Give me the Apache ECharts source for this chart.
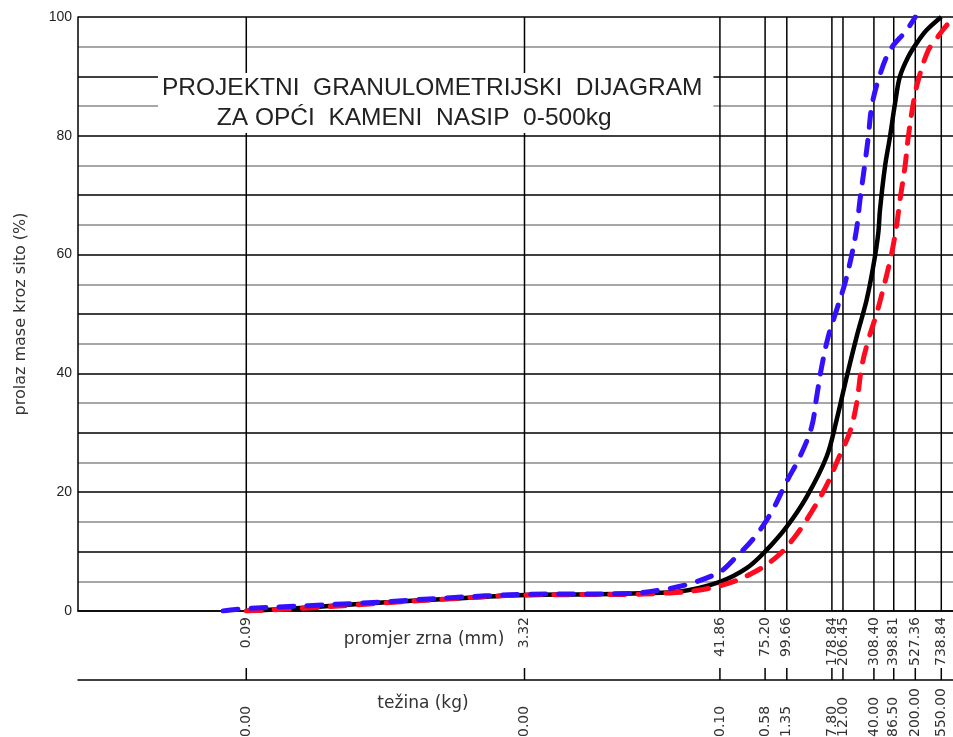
<!DOCTYPE html>
<html><head><meta charset="utf-8">
<script src="https://cdn.jsdelivr.net/npm/echarts@6/dist/echarts.min.js"></script>
<style>html,body{margin:0;padding:0;background:#fff}#c{width:953px;height:737px}</style>
</head><body><div id="c"></div>
<script>
// sieve sizes (mm) with vertical reference lines, and matching grain weights (kg)
const sieveMm = [0.09, 3.32, 41.86, 75.20, 99.66, 178.84, 206.45, 308.40, 398.81, 527.36, 738.84];
const sieveMmLabels = ['0.09','3.32','41.86','75.20','99.66','178.84','206.45','308.40','398.81','527.36','738.84'];
const weightKgLabels = ['0.00','0.00','0.10','0.58','1.35','7.80','12.00','40.00','86.50','200.00','550.00'];
const yTickLabels = [0, 20, 40, 60, 80, 100];
const xAxisMin = 0.01015;
const xAxisMax = 860;

// design grading curve (black) [mm, % passing]
const designCurve = [[0.09,0],[0.2,0.6],[0.5,1.4],[1.2,2.0],[3.32,2.7],[8,2.8],[15,3.0],[25,3.3],[41.86,4.9],[59.2,7.2],[75.2,10.0],[99.66,14.2],[128.9,19.2],[167.1,26],[190.2,32.2],[216.6,39.4],[246.6,46.2],[280.7,52.4],[305.8,58],[326.3,63.6],[333.6,67.5],[355.9,74.8],[379.7,79.8],[405.3,85.4],[432.4,90],[481.6,93.3],[537.1,95.6],[611.4,97.8],[738.84,100]];
// upper boundary (blue dashed)
const upperBound = [[0.0666,0],[0.09,0.4],[0.2,0.9],[0.508,1.5],[1.2,2.2],[3.32,2.8],[13,2.95],[20,3.6],[28.4,4.6],[41.86,6.6],[50.9,8.9],[65.9,12.5],[81.9,16.7],[99.5,21.8],[118.2,26],[137.5,31],[146.7,36],[156.6,41.1],[170.6,46.2],[190.2,50.7],[211.9,55.2],[231.1,59.9],[246.6,64.4],[257.4,69.2],[274.6,75.4],[286.7,79.8],[299.6,84.9],[326.4,89.4],[379.7,94.4],[471.7,97.8],[527.36,100]];
// lower boundary (red dashed)
const lowerBound = [[0.09,0],[0.2,0.5],[0.5,1.3],[1.2,2.0],[3.32,2.7],[13,2.8],[20,3.0],[28.4,3.3],[43.7,4.4],[63.1,6.3],[87.4,9.1],[110.7,12.5],[137.5,16.7],[167.1,21.2],[198.6,26.3],[226.1,30.2],[246.6,35],[263.1,41.1],[286.7,45.6],[319.6,50.1],[355.9,55.4],[388.2,60.2],[414.3,65],[432.4,69.2],[461.3,74.8],[481.6,79.8],[513.7,85.4],[548.3,89.4],[624.2,94.4],[696.2,96.4],[792.5,98.6],[860.3,99.4],[900,100]];

const chart = echarts.init(document.getElementById('c'), null, {renderer: 'canvas'});
const labelFont = '14px "DejaVu Sans"';

function renderSieve(params, api) {
  const i = params.dataIndex;
  const v = api.value(0);
  const p0 = api.coord([v, 0]);
  const p1 = api.coord([v, 100]);
  const x = p0[0], y0 = p0[1];
  return {
    type: 'group',
    children: [
      {type: 'line', shape: {x1: x, y1: y0, x2: x, y2: p1[1]}, style: {stroke: '#000', lineWidth: 1.5}},
      {type: 'line', shape: {x1: x, y1: y0 + 57, x2: x, y2: y0 + 69}, style: {stroke: '#000', lineWidth: 1.5}},
      {type: 'text', x: x, y: y0 + 6, rotation: Math.PI / 2,
        style: {text: sieveMmLabels[i], align: 'right', verticalAlign: 'middle', font: labelFont, fill: '#333'}},
      {type: 'text', x: x, y: y0 + 126, rotation: Math.PI / 2,
        style: {text: weightKgLabels[i], align: 'left', verticalAlign: 'middle', font: labelFont, fill: '#333'}}
    ]
  };
}

const titleTxt = {fontFamily: 'Liberation Sans', fontSize: 24.5, fontWeight: 'normal', lineHeight: 30, color: '#222'};

const option = {
  animation: false,
  backgroundColor: '#fff',
  title: {
    text: '{a|PROJEKTNI  GRANULOMETRIJSKI  DIJAGRAM}\n{b|ZA OPĆI  KAMENI  NASIP  0-500kg}',
    left: 158, top: 73,
    padding: [0, 11, 0, 4],
    backgroundColor: '#fff',
    textStyle: Object.assign({}, titleTxt, {
      rich: {
        a: Object.assign({align: 'center'}, titleTxt),
        b: Object.assign({align: 'center', padding: [0, 36, 0, 0]}, titleTxt)
      }
    })
  },
  grid: {left: 78, right: 0, top: 17, bottom: 126},
  xAxis: [
    {type: 'log', logBase: 10, min: xAxisMin, max: xAxisMax,
      axisLine: {show: true, onZero: false, lineStyle: {color: '#000', width: 1.5}},
      axisTick: {show: false}, axisLabel: {show: false}, splitLine: {show: false},
      name: 'promjer zrna (mm)', nameLocation: 'middle', nameGap: 20,
      nameTextStyle: {fontFamily: 'DejaVu Sans', fontSize: 17, color: '#333', padding: [0, 183, 0, 0]}},
    {type: 'log', logBase: 10, min: xAxisMin, max: xAxisMax, position: 'bottom', offset: 69,
      axisLine: {show: true, onZero: false, lineStyle: {color: '#000', width: 1.5}},
      axisTick: {show: false}, axisLabel: {show: false}, splitLine: {show: false},
      name: 'težina (kg)', nameLocation: 'middle', nameGap: 15,
      nameTextStyle: {fontFamily: 'DejaVu Sans', fontSize: 17, color: '#333', padding: [0, 185, 0, 0]}}
  ],
  yAxis: {
    type: 'value', min: 0, max: 100, interval: 5,
    axisLine: {show: true, lineStyle: {color: '#000', width: 1.5}},
    axisTick: {show: false},
    axisLabel: {margin: 6, fontFamily: 'Liberation Sans', fontSize: 14, color: '#222',
      formatter: v => yTickLabels.indexOf(v) >= 0 ? String(v) : ''},
    splitLine: {show: true, lineStyle: {color: ['#000', '#8a8a8a'], width: 1.5}},
    name: 'prolaz mase kroz sito (%)', nameLocation: 'middle', nameGap: 49,
    nameTextStyle: {fontFamily: 'DejaVu Sans', fontSize: 16, color: '#333'}
  },
  series: [
    {type: 'custom', name: 'sita', xAxisIndex: 0, yAxisIndex: 0, z: 1, clip: false, silent: true,
      renderItem: renderSieve, data: sieveMm.map(v => [v, 0]), encode: {x: 0, y: 1}},
    {type: 'line', name: 'projektna', data: designCurve, showSymbol: false, smooth: 0.35, z: 3,
      lineStyle: {color: '#000', width: 4.5}, itemStyle: {color: '#000'}},
    {type: 'line', name: 'donja', data: lowerBound, showSymbol: false, smooth: 0.35, z: 4,
      lineStyle: {color: '#ff0a1e', width: 5, type: [15, 13], cap: 'round'}, itemStyle: {color: '#ff0a1e'}},
    {type: 'line', name: 'gornja', data: upperBound, showSymbol: false, smooth: 0.35, z: 5,
      lineStyle: {color: '#3311ff', width: 5, type: [15, 13], cap: 'round'}, itemStyle: {color: '#3311ff'}}
  ]
};
chart.setOption(option);
</script>
</body></html>
